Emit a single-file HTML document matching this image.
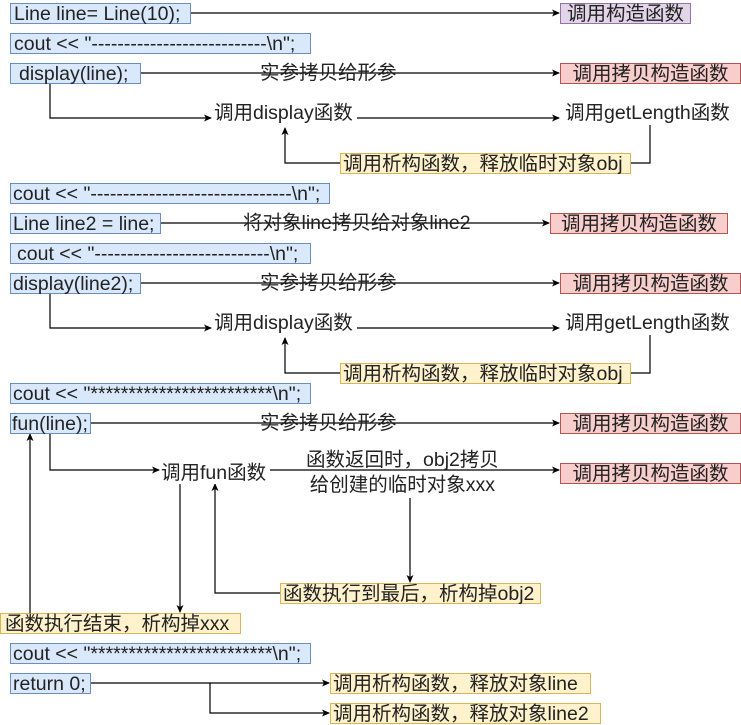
<!DOCTYPE html>
<html><head><meta charset="utf-8"><style>
body{margin:0;width:741px;height:724px;background:#fff;overflow:hidden;position:relative;font-family:"Liberation Sans","Noto Sans CJK SC",sans-serif;}
.b{position:absolute;height:21px;line-height:20px;font-size:19.5px;color:#222;white-space:nowrap;box-sizing:border-box;padding-left:3px;overflow:visible;}
.bl{background:#dae8fc;border:1px solid #6c8ebf;}
.pu{background:#e1d5e7;border:1px solid #9673a6;text-align:center;padding:0;}
.rd{background:#f8cecc;border:1px solid #b85450;text-align:center;padding:0;}
.ye{background:#fff2cc;border:1px solid #d6b656;padding-left:2px;}
.t{position:absolute;font-size:19.5px;color:#222;white-space:nowrap;background:#fff;line-height:22px;}
svg{position:absolute;left:0;top:0}
</style></head><body>
<svg width="741" height="724" viewBox="0 0 741 724">
<defs><marker id="a" markerWidth="8" markerHeight="8" refX="7" refY="4" orient="auto" markerUnits="userSpaceOnUse"><path d="M0,0.5 L8,4 L0,7.5 L2,4Z" fill="#000"/></marker></defs>
<g stroke="#000" stroke-width="1.2" fill="none" marker-end="url(#a)">
<path d="M190 13 H559"/>
<path d="M140 73 H559"/>
<path d="M50 83 V118 H211"/>
<path d="M357 118 H559"/>
<path d="M340 163 H285 V128"/>
<path d="M160 223 H549"/>
<path d="M140 283 H559"/>
<path d="M50 293 V328 H211"/>
<path d="M357 328 H559"/>
<path d="M340 373 H285 V338"/>
<path d="M90 423 H559"/>
<path d="M50 433 V470 H159"/>
<path d="M270 470 H559"/>
<path d="M410 498 V582"/>
<path d="M280 593 H215 V484"/>
<path d="M180 484 V612"/>
<path d="M30 613 V434"/>
<path d="M90 683 H329"/>
<path d="M210 683 V713 H329"/>
</g>
<g stroke="#000" stroke-width="1.2" fill="none">
<path d="M650 125 V163 H630"/>
<path d="M650 335 V373 H630"/>
</g>
</svg>
<div class="b bl" style="left:10px;top:3px;width:181px">Line line= Line(10);</div>
<div class="b bl" style="left:10px;top:33px;width:301px">cout &lt;&lt; "---------------------------\n";</div>
<div class="b bl" style="left:10px;top:63px;width:131px;padding-left:8px">display(line);</div>
<div class="b bl" style="left:10px;top:183px;width:320px;padding-left:2px">cout &lt;&lt; "-------------------------------\n";</div>
<div class="b bl" style="left:10px;top:213px;width:151px;padding-left:2px">Line line2 = line;</div>
<div class="b bl" style="left:10px;top:243px;width:301px;padding-left:6px">cout &lt;&lt; "---------------------------\n";</div>
<div class="b bl" style="left:10px;top:273px;width:131px;padding-left:2px">display(line2);</div>
<div class="b bl" style="left:10px;top:383px;width:301px;padding-left:2px">cout &lt;&lt; "************************\n";</div>
<div class="b bl" style="left:10px;top:413px;width:81px;padding-left:1px">fun(line);</div>
<div class="b bl" style="left:10px;top:643px;width:301px;padding-left:2px">cout &lt;&lt; "************************\n";</div>
<div class="b bl" style="left:10px;top:673px;width:81px;padding-left:2px">return 0;</div>

<div class="b pu" style="left:560px;top:3px;width:131px">调用构造函数</div>
<div class="b rd" style="left:560px;top:63px;width:181px">调用拷贝构造函数</div>
<div class="b rd" style="left:550px;top:213px;width:178px">调用拷贝构造函数</div>
<div class="b rd" style="left:560px;top:273px;width:181px">调用拷贝构造函数</div>
<div class="b rd" style="left:560px;top:413px;width:181px">调用拷贝构造函数</div>
<div class="b rd" style="left:560px;top:463px;width:181px">调用拷贝构造函数</div>
<div class="b ye" style="left:340px;top:153px;width:291px">调用析构函数，释放临时对象obj</div>
<div class="b ye" style="left:340px;top:363px;width:291px">调用析构函数，释放临时对象obj</div>
<div class="b ye" style="left:280px;top:583px;width:261px">函数执行到最后，析构掉obj2</div>
<div class="b ye" style="left:0px;top:613px;width:241px;padding-left:4px">函数执行结束，析构掉xxx</div>
<div class="b ye" style="left:330px;top:673px;width:261px">调用析构函数，释放对象line</div>
<div class="b ye" style="left:330px;top:703px;width:271px">调用析构函数，释放对象line2</div>

<div class="t" style="left:260px;top:62px;background:none">实参拷贝给形参</div>
<div class="t" style="left:214px;top:102px">调用display函数</div>
<div class="t" style="left:565px;top:102px">调用getLength函数</div>
<div class="t" style="left:243px;top:212px;background:none">将对象line拷贝给对象line2</div>
<div class="t" style="left:260px;top:272px;background:none">实参拷贝给形参</div>
<div class="t" style="left:214px;top:312px">调用display函数</div>
<div class="t" style="left:565px;top:312px">调用getLength函数</div>
<div class="t" style="left:260px;top:412px;background:none">实参拷贝给形参</div>
<div class="t" style="left:161px;top:462px">调用fun函数</div>
<div class="t" style="left:306px;top:448px;line-height:25px;text-align:center;background:none">函数返回时，obj2拷贝<br>给创建的临时对象xxx</div>
</body></html>
